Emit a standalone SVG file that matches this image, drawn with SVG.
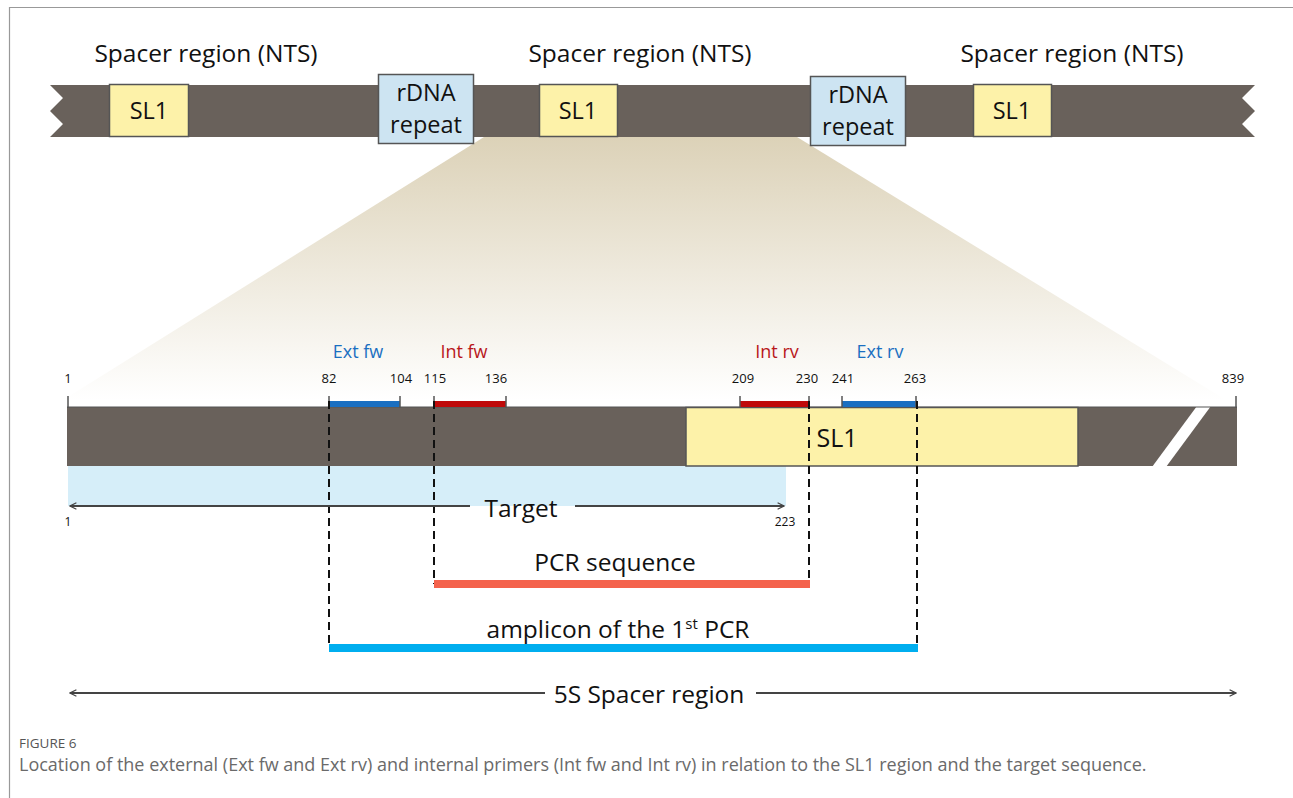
<svg xmlns="http://www.w3.org/2000/svg" width="1293" height="798" viewBox="0 0 1293 798">
<style>
text{font-family:"Open Sans","Liberation Sans",sans-serif;fill:#111}
.bar{fill:#69615b}
.sl1{fill:#fdf2a9;stroke:#555;stroke-width:1.5}
.rdna{fill:#cde4f2;stroke:#555;stroke-width:1.5}
.big{font-size:24.5px;text-anchor:middle}
.box{font-size:23.5px;text-anchor:middle}
.num{font-size:13px;text-anchor:middle}
.pl{font-size:18px;text-anchor:middle}
.mid{font-size:24.5px;text-anchor:middle}
.tick{stroke:#555;stroke-width:1.5}
.dash{stroke:#111;stroke-width:2;stroke-dasharray:8 5;fill:none}
.arr{stroke:#444;stroke-width:1.8;fill:none}
</style>
<defs>
<linearGradient id="fade" x1="0" y1="0" x2="0" y2="1">
<stop offset="0" stop-color="#dcd2b8"/>
<stop offset="1" stop-color="#ffffff"/>
</linearGradient>
<marker id="ah" viewBox="0 0 10 10" refX="9" refY="5" markerWidth="8" markerHeight="8" markerUnits="userSpaceOnUse" orient="auto-start-reverse">
<path d="M1,1 L9,5 L1,9" fill="none" stroke="#444" stroke-width="1.5"/>
</marker>
</defs>
<rect width="1293" height="798" fill="#fff"/>
<path d="M9.5,798 V7.5 H1293" fill="none" stroke="#999" stroke-width="1.2"/>

<g id="zoom-fan">
<polygon points="484,137 797,137 1226,400 63,400" fill="url(#fade)"/>
</g>

<g id="top-strand">
<path class="bar" d="M50,85 H1255 L1242,98 L1255,111 L1242,124 L1255,137 H50 L63,124 L50,111 L63,98 Z"/>
<text class="big" x="206" y="62">Spacer region (NTS)</text>
<text class="big" x="640" y="62">Spacer region (NTS)</text>
<text class="big" x="1072" y="62">Spacer region (NTS)</text>
</g>
<g id="sl1-a"><rect class="sl1" x="109.5" y="84.5" width="79" height="52"/><text class="box" x="149" y="119">SL1</text></g>
<g id="rdna-a"><rect class="rdna" x="378.5" y="74.5" width="95" height="69"/><text class="box" x="426" y="101">rDNA</text><text class="box" x="426" y="133">repeat</text></g>
<g id="sl1-b"><rect class="sl1" x="539.5" y="84.5" width="78" height="52"/><text class="box" x="578" y="119">SL1</text></g>
<g id="rdna-b"><rect class="rdna" x="810.5" y="76.5" width="95" height="69"/><text class="box" x="858" y="103">rDNA</text><text class="box" x="858" y="135">repeat</text></g>
<g id="sl1-c"><rect class="sl1" x="973.5" y="84.5" width="78" height="52"/><text class="box" x="1012" y="119">SL1</text></g>

<g id="main-strand">
<rect x="68" y="466" width="718" height="40" fill="#d6eef9"/>
<rect class="bar" x="67" y="407" width="1170" height="59"/>
<polygon points="1197,406 1211,406 1166,467 1152,467" fill="#fff"/>
<line x1="67" y1="407" x2="1237" y2="407" stroke="#555" stroke-width="1"/>
</g>
<g id="sl1-main"><rect class="sl1" x="686" y="407.5" width="392" height="58.5"/><text x="837" y="447" font-size="25" text-anchor="middle">SL1</text></g>

<g id="primers">
<rect x="329" y="401" width="71" height="6" fill="#1a6fc1"/>
<rect x="434" y="401" width="72" height="6" fill="#bf0a0a"/>
<rect x="740" y="401" width="69" height="6" fill="#bf0a0a"/>
<rect x="842" y="401" width="74" height="6" fill="#1a6fc1"/>
<g class="tick">
<line x1="68" y1="396" x2="68" y2="408"/>
<line x1="329" y1="396" x2="329" y2="408"/>
<line x1="400" y1="396" x2="400" y2="408"/>
<line x1="434" y1="396" x2="434" y2="408"/>
<line x1="506" y1="396" x2="506" y2="408"/>
<line x1="740" y1="396" x2="740" y2="408"/>
<line x1="809" y1="396" x2="809" y2="408"/>
<line x1="842" y1="396" x2="842" y2="408"/>
<line x1="916" y1="396" x2="916" y2="408"/>
<line x1="1236" y1="396" x2="1236" y2="408"/>
</g>
<text class="pl" x="358" y="358" style="fill:#1a6fc1">Ext fw</text>
<text class="pl" x="464" y="358" style="fill:#b8161b">Int fw</text>
<text class="pl" x="777" y="358" style="fill:#b8161b">Int rv</text>
<text class="pl" x="880" y="358" style="fill:#1a6fc1">Ext rv</text>
<text class="num" x="68" y="383">1</text>
<text class="num" x="329" y="383">82</text>
<text class="num" x="401" y="383">104</text>
<text class="num" x="435" y="383">115</text>
<text class="num" x="496" y="383">136</text>
<text class="num" x="743" y="383">209</text>
<text class="num" x="807" y="383">230</text>
<text class="num" x="843" y="383">241</text>
<text class="num" x="915" y="383">263</text>
<text class="num" x="1233" y="383">839</text>
</g>

<g id="connectors">
<line class="dash" x1="329" y1="401" x2="329" y2="648"/>
<line class="dash" x1="434" y1="401" x2="434" y2="584"/>
<line class="dash" x1="809" y1="401" x2="809" y2="584"/>
<line class="dash" x1="917" y1="401" x2="917" y2="648"/>
<line class="arr" x1="70" y1="506" x2="470" y2="506" marker-start="url(#ah)"/>
<line class="arr" x1="575" y1="506" x2="784" y2="506" marker-end="url(#ah)"/>
<line class="arr" x1="70" y1="693" x2="545" y2="693" marker-start="url(#ah)"/>
<line class="arr" x1="756" y1="693" x2="1236" y2="693" marker-end="url(#ah)"/>
</g>

<g id="target">
<text class="mid" x="521" y="517">Target</text>
<text x="68" y="526" font-size="12" text-anchor="middle">1</text>
<text x="785" y="526" font-size="12" text-anchor="middle">223</text>
</g>
<g id="pcr-sequence">
<rect x="434" y="580" width="376" height="8" fill="#f4624c"/>
<text class="mid" x="615" y="571">PCR sequence</text>
</g>
<g id="amplicon">
<rect x="329" y="644" width="589" height="8" fill="#00aeef"/>
<text class="mid" x="618" y="638">amplicon of the 1<tspan font-size="15" dy="-9">st</tspan><tspan dy="9"> PCR</tspan></text>
</g>
<g id="spacer-5s">
<text class="mid" x="649" y="703">5S Spacer region</text>
</g>

<g id="caption">
<text x="19" y="748" font-size="13.5" style="fill:#555">FIGURE 6</text>
<text x="19" y="771" font-size="18" style="fill:#6a6a6a">Location of the external (Ext fw and Ext rv) and internal primers (Int fw and Int rv) in relation to the SL1 region and the target sequence.</text>
</g>
</svg>
